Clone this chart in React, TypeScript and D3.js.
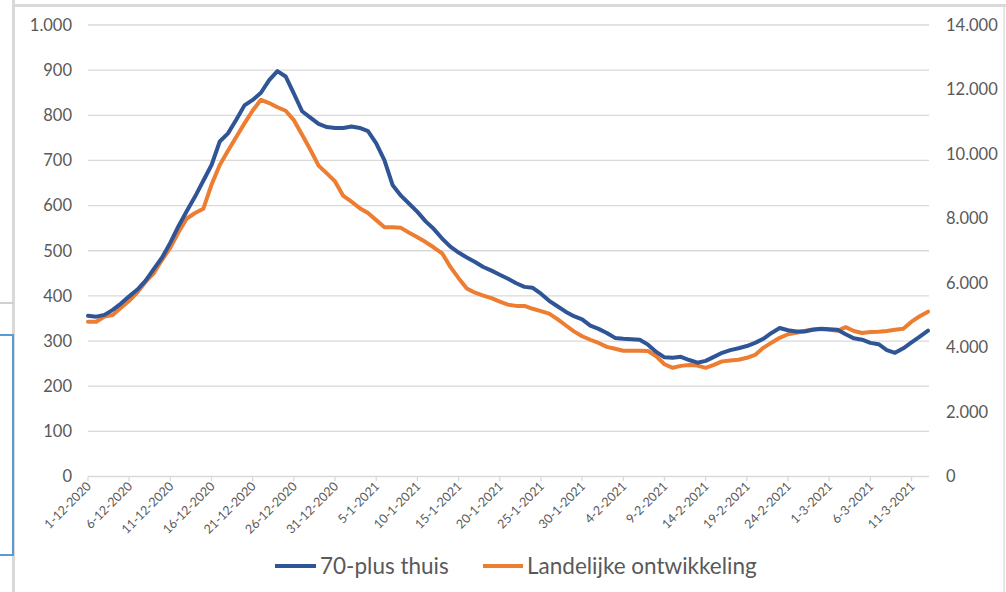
import React from "react";
import * as d3 from "d3";

// Series values, one per day from 1-12-2020
const seniorsHome: number[] = [
  356, 354, 358, 369, 383, 399, 414, 434, 460, 485,
  518, 555, 588, 620, 655, 690, 742, 760, 790, 822,
  834, 850, 878, 898, 886, 848, 809, 795, 781, 774,
  772, 772, 775, 772, 765, 738, 700, 645, 622, 604,
  586, 565, 548, 527, 509, 496, 485, 475, 464, 456,
  447, 438, 428, 420, 418, 405, 389, 377, 365, 355,
  348, 334, 327, 318, 307, 305, 304, 303, 292, 276,
  264, 263, 265, 258, 252, 256, 265, 274, 280, 284,
  289, 296, 305, 318, 329, 324, 321, 321, 325, 327,
  326, 325, 315, 306, 303, 296, 293, 280, 274, 284,
  297, 310, 323,
];

const national: number[] = [
  4800, 4800, 4960, 5010, 5230, 5450, 5710, 6040, 6310, 6720,
  7100, 7580, 8000, 8170, 8300, 9050, 9660, 10100, 10530, 10950,
  11350, 11680, 11580, 11450, 11340, 11050, 10600, 10130, 9640, 9400,
  9150, 8700, 8520, 8320, 8170, 7950, 7730, 7730, 7710, 7560,
  7420, 7270, 7100, 6920, 6500, 6150, 5830, 5700, 5610, 5530,
  5420, 5330, 5290, 5290, 5200, 5130, 5050, 4880, 4690, 4500,
  4350, 4240, 4140, 4020, 3960, 3900, 3900, 3900, 3890, 3730,
  3480, 3370, 3430, 3460, 3440, 3370, 3460, 3570, 3600, 3620,
  3680, 3770, 3990, 4150, 4300, 4410, 4460, 4510, 4560, 4570,
  4550, 4520, 4630, 4510, 4450, 4480, 4490, 4510, 4550, 4580,
  4800, 4970, 5110,
];

const xTickLabels: string[] = [
  "1-12-2020", "6-12-2020", "11-12-2020", "16-12-2020", "21-12-2020",
  "26-12-2020", "31-12-2020", "5-1-2021", "10-1-2021", "15-1-2021",
  "20-1-2021", "25-1-2021", "30-1-2021", "4-2-2021", "9-2-2021",
  "14-2-2021", "19-2-2021", "24-2-2021", "1-3-2021", "6-3-2021", "11-3-2021",
];

const leftTicks: number[] = [0, 100, 200, 300, 400, 500, 600, 700, 800, 900, 1000];
const rightTicks: number[] = [0, 2000, 4000, 6000, 8000, 10000, 12000, 14000];
const seriesNames: string[] = ["70-plus thuis", "Landelijke ontwikkeling"];

const W = 1006;
const H = 592;
const FONT = "Lato, 'Open Sans', sans-serif";
const TEXT = "#595959";
const BLUE = "#2F5597";
const ORANGE = "#ED7D31";

const nl = d3.formatLocale({ decimal: ",", thousands: ".", grouping: [3], currency: ["€", ""] });
const fmt = nl.format(",d");
const parse = d3.timeParse("%d-%m-%Y");

export default function App() {
  const start = parse("1-12-2020") as Date;
  const dates = seniorsHome.map((_, i) => d3.timeDay.offset(start, i));

  const x = d3.scaleTime().domain([dates[0], dates[dates.length - 1]]).range([88, 928]);
  const yL = d3.scaleLinear().domain([0, 1000]).range([476.5, 25]);
  const yR = d3.scaleLinear().domain([0, 14000]).range([476.5, 25]);

  const lineL = d3.line<number>().x((_, i) => x(dates[i])).y((d) => yL(d));
  const lineR = d3.line<number>().x((_, i) => x(dates[i])).y((d) => yR(d));

  const plotLeft = 88;
  const plotRight = 929;

  return (
    <svg
      width={W}
      height={H}
      style={{ position: "absolute", left: 0, top: 0, display: "block", background: "#fff" }}
      fontFamily={FONT}
    >
      <rect x={0} y={0} width={W} height={H} fill="#fff" />
      {/* screenshot frame pieces */}
      <rect x={14} y={4} width={W - 14} height={3} fill="#d9d9d9" />
      <rect x={12} y={0} width={3} height={H} fill="#d9d9d9" />
      <rect x={0} y={302} width={14} height={2} fill="#d0d0d0" />
      <rect x={-2} y={335} width={15} height={220} fill="none" stroke="#5b9bd5" strokeWidth={2} />
      <rect x={1003} y={7} width={2} height={H} fill="#e6e6e6" />

      {/* gridlines */}
      {leftTicks.map((t) => (
        <line key={"g" + t} x1={plotLeft} x2={plotRight} y1={yL(t)} y2={yL(t)} stroke="#d9d9d9" strokeWidth={1.3} />
      ))}
      {/* x axis ticks */}
      {xTickLabels.map((lab) => {
        const px = x(parse(lab) as Date);
        return <line key={"t" + lab} x1={px} x2={px} y1={476.5} y2={481} stroke="#d9d9d9" strokeWidth={1.3} />;
      })}
      {/* left labels */}
      {leftTicks.map((t) => (
        <text key={"l" + t} x={72} y={yL(t)} dy="0.35em" textAnchor="end" fontSize={16.5} fill={TEXT}>
          {fmt(t)}
        </text>
      ))}
      {/* right labels */}
      {rightTicks.map((t) => (
        <text key={"r" + t} x={946} y={yR(t)} dy="0.35em" textAnchor="start" fontSize={16.5} fill={TEXT}>
          {fmt(t)}
        </text>
      ))}
      {/* x labels */}
      {xTickLabels.map((lab) => {
        const px = x(parse(lab) as Date);
        return (
          <text
            key={"x" + lab}
            transform={`translate(${px + 4},${487}) rotate(-45)`}
            textAnchor="end"
            fontSize={12.5}
            fill={TEXT}
          >
            {lab}
          </text>
        );
      })}
      {/* lines */}
      <path d={lineR(national) || ""} fill="none" stroke={ORANGE} strokeWidth={4} strokeLinejoin="round" strokeLinecap="round" />
      <path d={lineL(seniorsHome) || ""} fill="none" stroke={BLUE} strokeWidth={4} strokeLinejoin="round" strokeLinecap="round" />

      {/* legend */}
      <line x1={275} x2={316} y1={566} y2={566} stroke={BLUE} strokeWidth={4} />
      <text x={320} y={566} dy="0.35em" fontSize={22.5} fill={TEXT}>{seriesNames[0]}</text>
      <line x1={483} x2={523} y1={566} y2={566} stroke={ORANGE} strokeWidth={4} />
      <text x={527} y={566} dy="0.35em" fontSize={22.5} fill={TEXT}>{seriesNames[1]}</text>
    </svg>
  );
}
